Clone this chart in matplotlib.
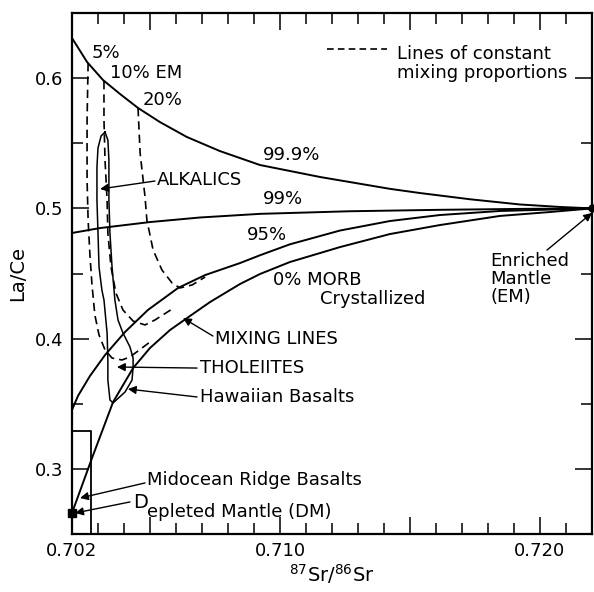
import matplotlib
matplotlib.use("Agg")
import matplotlib.pyplot as plt
from matplotlib.ticker import MultipleLocator, FixedLocator

plt.rcParams['font.family'] = ['DejaVu Sans']

# mixing curves between depleted mantle (DM) and enriched mantle (EM)
top_x = [0.70200, 0.70258, 0.70319, 0.70385, 0.70454, 0.70538, 0.70642, 0.70769, 0.70923,
         0.71154, 0.71423, 0.71538, 0.71731, 0.71923, 0.72077, 0.72200]
top_y = [0.6308, 0.6124, 0.5986, 0.5878, 0.5771, 0.5663, 0.5548, 0.5440, 0.5333,
         0.5241, 0.5150, 0.5118, 0.5070, 0.5030, 0.5011, 0.5000]

p99_x = [0.70200, 0.70308, 0.70500, 0.70692, 0.70923, 0.71269, 0.71615, 0.71923, 0.72200]
p99_y = [0.4811, 0.4849, 0.4895, 0.4930, 0.4958, 0.4978, 0.4989, 0.4996, 0.5000]

p95_x = [0.70200, 0.70223, 0.70269, 0.70327, 0.70404, 0.70492, 0.70608, 0.70712, 0.70846,
         0.70923, 0.71038, 0.71231, 0.71423, 0.71615, 0.71846, 0.72200]
p95_y = [0.3452, 0.3560, 0.3713, 0.3874, 0.4051, 0.4220, 0.4389, 0.4488, 0.4580,
         0.4640, 0.4724, 0.4830, 0.4903, 0.4949, 0.4980, 0.5000]

p0_x = [0.70200, 0.70277, 0.70358, 0.70435, 0.70500, 0.70577, 0.70654, 0.70731, 0.70846,
        0.70923, 0.71038, 0.71231, 0.71423, 0.71615, 0.71846, 0.72038, 0.72200]
p0_y = [0.2661, 0.3083, 0.3513, 0.3774, 0.3928, 0.4066, 0.4174, 0.4281, 0.4419,
        0.4496, 0.4588, 0.4703, 0.4803, 0.4872, 0.4942, 0.4972, 0.5000]

# lines of constant mixing proportions (5%, 10%, 20% EM)
em5_x = [0.70262, 0.70258, 0.70258, 0.70262, 0.70269, 0.70277, 0.70288, 0.70304, 0.70327,
         0.70354, 0.70392, 0.70423, 0.70469, 0.70500]
em5_y = [0.6116, 0.5679, 0.5218, 0.4911, 0.4642, 0.4412, 0.4181, 0.4028, 0.3913,
         0.3851, 0.3836, 0.3859, 0.3928, 0.3974]

em10_x = [0.70323, 0.70323, 0.70327, 0.70335, 0.70338, 0.70350, 0.70369, 0.70396, 0.70435,
          0.70481, 0.70519, 0.70585]
em10_y = [0.5978, 0.5679, 0.5371, 0.5064, 0.4811, 0.4550, 0.4350, 0.4220, 0.4135,
          0.4105, 0.4143, 0.4227]

em20_x = [0.70454, 0.70462, 0.70481, 0.70488, 0.70512, 0.70546, 0.70585, 0.70615, 0.70662, 0.70712]
em20_y = [0.5771, 0.5425, 0.5087, 0.4911, 0.4680, 0.4527, 0.4427, 0.4389, 0.4412, 0.4473]

# Hawaiian basalts field (alkalics + tholeiites)
haw_x = [0.70327, 0.70338, 0.70342, 0.70342, 0.70346, 0.70354, 0.70365, 0.70377, 0.70396,
         0.70423, 0.70435, 0.70435, 0.70431, 0.70404, 0.70358, 0.70346, 0.70338, 0.70338,
         0.70335, 0.70323, 0.70315, 0.70304, 0.70300, 0.70296, 0.70296, 0.70300, 0.70312, 0.70327]
haw_y = [0.5586, 0.5525, 0.5371, 0.5064, 0.4811, 0.4550, 0.4297, 0.4143, 0.4043,
         0.3936, 0.3851, 0.3782, 0.3682, 0.3590, 0.3506, 0.3529, 0.3682, 0.3836,
         0.4043, 0.4297, 0.4373, 0.4550, 0.4811, 0.5064, 0.5318, 0.5464, 0.5556, 0.5586]

# midocean ridge basalts box
morb_x = [0.70200, 0.70273]
morb_y = [0.250, 0.329]

dm = (0.702, 0.266)
em = (0.722, 0.500)

fig = plt.figure(figsize=(5.94, 5.92), dpi=100)
ax = fig.add_axes([0.1212, 0.098, 0.8754, 0.880])

lw = 1.4
for xs, ys in [(top_x, top_y), (p99_x, p99_y), (p95_x, p95_y), (p0_x, p0_y)]:
    ax.plot(xs, ys, color='black', lw=lw)
for xs, ys in [(em5_x, em5_y), (em10_x, em10_y), (em20_x, em20_y)]:
    ax.plot(xs, ys, color='black', lw=1.2, dashes=(5, 3))
ax.plot(haw_x, haw_y, color='black', lw=1.1)
ax.plot([morb_x[0], morb_x[1], morb_x[1]], [morb_y[1], morb_y[1], morb_y[0]], color='black', lw=1.3)

ax.plot(*dm, marker='s', color='black', ms=6, clip_on=False)
ax.plot(*em, marker='o', color='black', ms=5, clip_on=False)

ax.set_xlim(0.702, 0.722)
ax.set_ylim(0.25, 0.65)

ax.xaxis.set_major_locator(FixedLocator([0.702, 0.705, 0.710, 0.715, 0.720]))
ax.set_xticklabels(['0.702', '', '0.710', '', '0.720'])
ax.xaxis.set_minor_locator(MultipleLocator(0.001))
ax.yaxis.set_major_locator(FixedLocator([0.3, 0.4, 0.5, 0.6]))
ax.set_yticklabels(['0.3', '0.4', '0.5', '0.6'])
ax.yaxis.set_minor_locator(FixedLocator([0.35, 0.45, 0.55]))
ax.tick_params(which='both', direction='in', top=True, right=True, width=1.1, labelsize=13)
ax.tick_params(which='major', length=12, pad=6)
ax.tick_params(which='minor', length=8)
for s in ax.spines.values():
    s.set_linewidth(1.6)

ax.set_xlabel('$^{87}$Sr/$^{86}$Sr', fontsize=14, labelpad=1)
ax.set_ylabel('La/Ce', fontsize=14, labelpad=6)

fs = 13
ax.text(0.70277, 0.6193, '5%', fontsize=fs, va='center')
ax.text(0.70346, 0.6039, '10% EM', fontsize=fs, va='center')
ax.text(0.70473, 0.5832, '20%', fontsize=fs, va='center')
ax.text(0.70935, 0.5410, '99.9%', fontsize=fs, va='center')
ax.text(0.70935, 0.5072, '99%', fontsize=fs, va='center')
ax.text(0.70873, 0.4796, '95%', fontsize=fs, va='center')
ax.text(0.70973, 0.4450, '0% MORB', fontsize=fs, va='center')
ax.text(0.71154, 0.4304, 'Crystallized', fontsize=fs, va='center')
ax.text(0.71808, 0.4665, 'Enriched\nMantle\n(EM)', fontsize=fs, va='top', linespacing=1.0)

ax.plot([0.71181, 0.71412], [0.6224, 0.6224], color='black', lw=1.2, dashes=(4, 2.5))
ax.text(0.71450, 0.6254, 'Lines of constant\nmixing proportions', fontsize=fs, va='top', linespacing=1.1)

arrow = dict(arrowstyle='-|>', color='black', lw=1.0, mutation_scale=12, shrinkA=0, shrinkB=0)
notes = [
    ('ALKALICS', (0.70527, 0.5218), (0.70519, 0.5210), (0.70308, 0.5149)),
    ('MIXING LINES', (0.70750, 0.3997), (0.70742, 0.4020), (0.70627, 0.4158)),
    ('THOLEIITES', (0.70692, 0.3774), (0.70681, 0.3774), (0.70373, 0.3782)),
    ('Hawaiian Basalts', (0.70692, 0.3552), (0.70681, 0.3552), (0.70415, 0.3613)),
    ('Midocean Ridge Basalts', (0.70488, 0.2915), (0.70481, 0.2892), (0.70231, 0.2776)),
]
for label, tpos, tail, head in notes:
    ax.text(tpos[0], tpos[1], label, fontsize=fs, va='center')
    ax.annotate('', xy=head, xytext=tail, arrowprops=arrow)

ax.text(0.70435, 0.2738, 'D', fontsize=14, va='center')
ax.text(0.70488, 0.2669, 'epleted Mantle (DM)', fontsize=fs, va='center')
ax.annotate('', xy=(0.70212, 0.2661), xytext=(0.70423, 0.2746), arrowprops=arrow)
ax.annotate('', xy=(0.72200, 0.4965), xytext=(0.72027, 0.4680), arrowprops=arrow,
            annotation_clip=False)

fig.savefig('out.png', dpi=100)
